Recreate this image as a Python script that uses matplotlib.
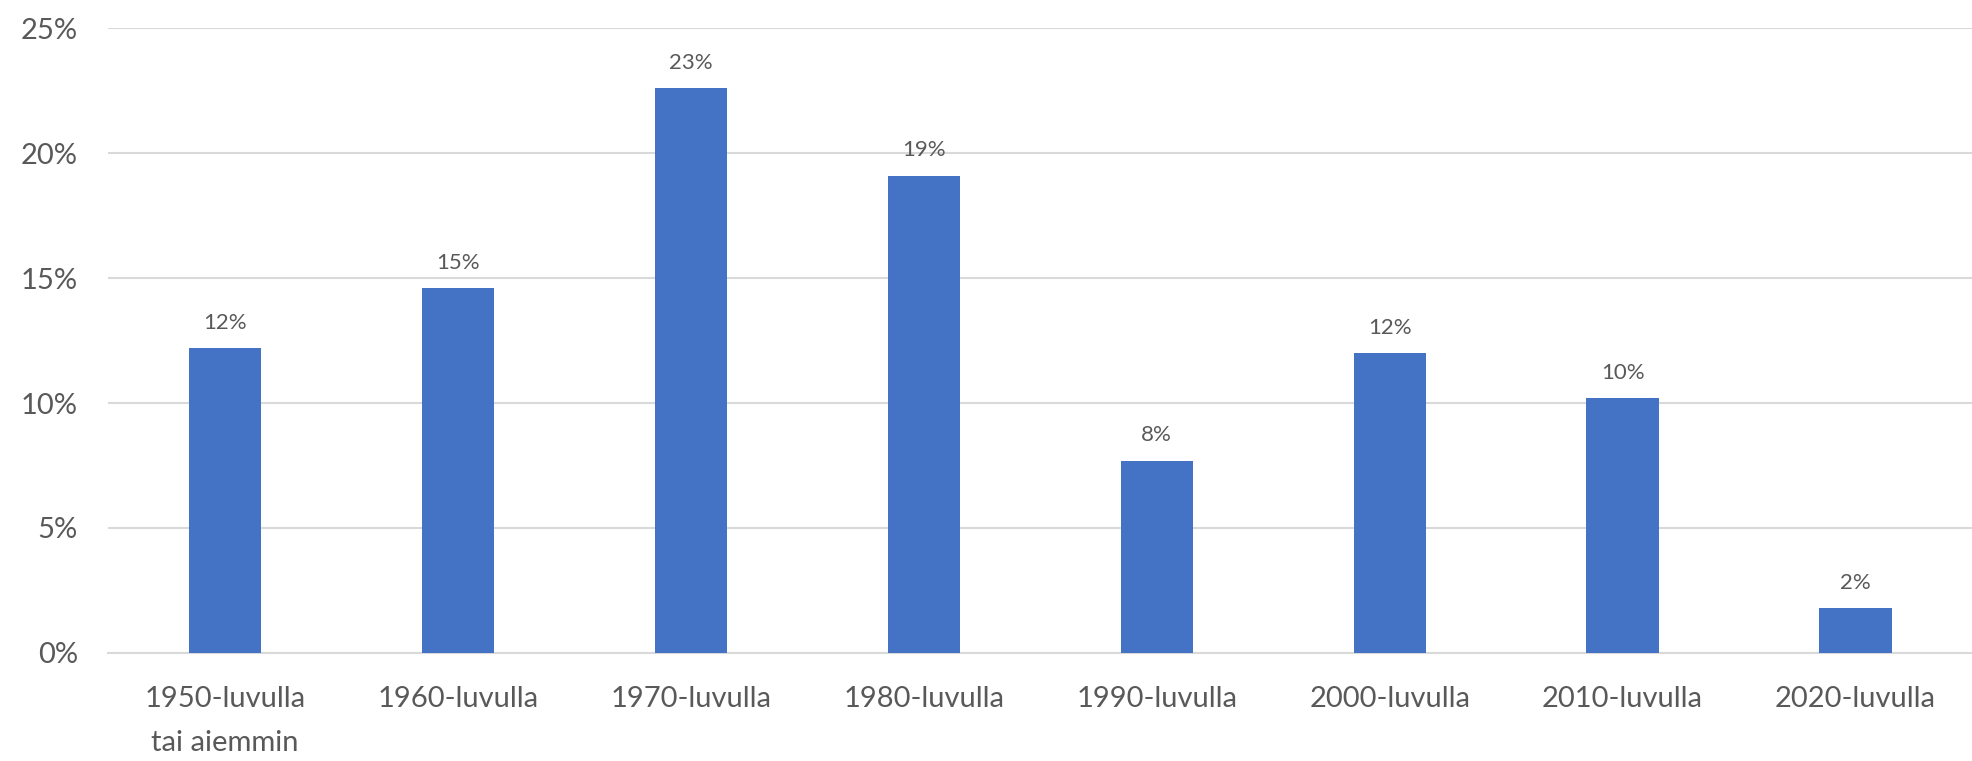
import numpy as np
import matplotlib
matplotlib.use('Agg')
import matplotlib.pyplot as plt
from matplotlib.ticker import PercentFormatter

plt.rcParams['font.family'] = ['Lato', 'DejaVu Sans']

categories = ['1950-luvulla\ntai aiemmin', '1960-luvulla', '1970-luvulla', '1980-luvulla',
              '1990-luvulla', '2000-luvulla', '2010-luvulla', '2020-luvulla']
values = [12.2, 14.6, 22.6, 19.1, 7.7, 12.0, 10.2, 1.8]
labels = ['12%', '15%', '23%', '19%', '8%', '12%', '10%', '2%']

text_col = '#595959'
grid_col = '#d9d9d9'

fig = plt.figure(figsize=(19.72, 7.61), dpi=100)
ax = fig.add_axes([0.055, 0.142, 0.945, 0.821])

x = np.arange(len(categories))
bars = ax.bar(x, values, width=0.31, color='#4472c4', zorder=3)

for b, lab in zip(bars, labels):
    ax.annotate(lab, (b.get_x() + b.get_width() / 2, b.get_height()),
                xytext=(0, 11), textcoords='offset points',
                ha='center', va='bottom', fontsize=16, color=text_col)

ax.set_xlim(-0.5, len(categories) - 0.5)
ax.set_ylim(0, 25)
ax.set_yticks([0, 5, 10, 15, 20, 25])
ax.yaxis.set_major_formatter(PercentFormatter(decimals=0))
ax.set_xticks(x)
ax.set_xticklabels(categories, linespacing=1.85)

ax.grid(axis='y', color=grid_col, lw=1.5, zorder=0)
for s in ['top', 'right', 'left']:
    ax.spines[s].set_visible(False)
ax.spines['bottom'].set_color(grid_col)
ax.spines['bottom'].set_linewidth(1.5)
ax.tick_params(axis='both', length=0, labelsize=21, colors=text_col)
ax.tick_params(axis='y', pad=22)
ax.tick_params(axis='x', pad=24)

fig.savefig('out.png', dpi=100)
